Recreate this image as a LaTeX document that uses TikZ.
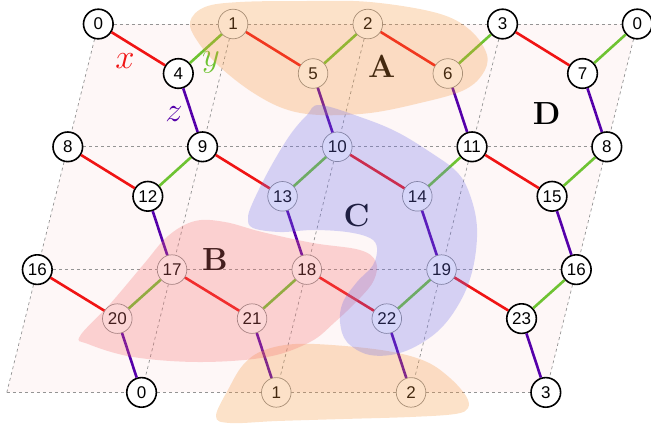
\documentclass[tikz,border=0pt]{standalone}
\usepackage{fontspec}
\newfontfamily\numfont{Liberation Sans}
\usetikzlibrary{backgrounds}
\definecolor{xred}{RGB}{240,20,20}
\definecolor{ygreen}{RGB}{110,195,50}
\definecolor{zpurple}{RGB}{85,0,170}
\definecolor{regA}{RGB}{245,150,60}
\definecolor{regB}{RGB}{245,110,110}
\definecolor{regC}{RGB}{110,110,235}
\definecolor{bgpink}{RGB}{254,247,247}
\tikzset{
  vtx/.style={circle, draw=black, line width=0.8pt, fill=white, inner sep=0pt,
    minimum size=14.8pt, font=\numfont\fontsize{8.5}{9}\selectfont},
  rvtx/.style={vtx, draw=black!45, line width=0.35pt},
  xe/.style={draw=xred, line width=1.3pt},
  ye/.style={draw=ygreen, line width=1.3pt},
  ze/.style={draw=zpurple, line width=1.3pt},
  gridln/.style={draw=black!42, line width=0.35pt, dash pattern=on 1.5pt off 1.5pt},
  regfill/.style={fill opacity=0.28},
  bondlbl/.style={font=\fontsize{17}{20}\selectfont},
  reglbl/.style={font=\fontsize{16}{19}\selectfont\bfseries}
}
\begin{document}
\begin{tikzpicture}[x=0.5pt,y=-0.5pt]
\useasboundingbox (0,0) rectangle (651,424);
% row 0
\node[vtx]  (n0)  at (98.3,24)   {0};
\node[rvtx] (n1)  at (233.05,24) {1};
\node[rvtx] (n2)  at (367.8,24)  {2};
\node[vtx]  (n3)  at (502.55,24) {3};
\node[vtx]  (n0r) at (637.3,24)  {0};
% row 1
\node[vtx]  (n4)  at (178.3,73.5)  {4};
\node[rvtx] (n5)  at (313.05,73.5) {5};
\node[rvtx] (n6)  at (447.8,73.5)  {6};
\node[vtx]  (n7)  at (582.55,73.5) {7};
% row 2
\node[vtx]  (n8)  at (67.8,146.8)   {8};
\node[vtx]  (n9)  at (202.55,146.8) {9};
\node[rvtx] (n10) at (337.3,146.8)  {10};
\node[vtx]  (n11) at (472.05,146.8) {11};
\node[vtx]  (n8r) at (606.8,146.8)  {8};
% row 3
\node[vtx]  (n12) at (147.8,196.3)  {12};
\node[rvtx] (n13) at (282.55,196.3) {13};
\node[rvtx] (n14) at (417.3,196.3)  {14};
\node[vtx]  (n15) at (552.05,196.3) {15};
% row 4
\node[vtx]  (n16) at (37.3,269.6)   {16};
\node[rvtx] (n17) at (172.05,269.6) {17};
\node[rvtx] (n18) at (306.8,269.6)  {18};
\node[rvtx] (n19) at (441.55,269.6) {19};
\node[vtx]  (n16r) at (576.3,269.6) {16};
% row 5
\node[rvtx] (n20) at (117.3,318.6)  {20};
\node[rvtx] (n21) at (252.05,318.6) {21};
\node[rvtx] (n22) at (386.8,318.6)  {22};
\node[vtx]  (n23) at (521.55,318.6) {23};
% row 6
\coordinate (bl) at (6.8,392.4);
\node[vtx]  (b0) at (141.55,392.4) {0};
\node[rvtx] (b1) at (276.3,392.4)  {1};
\node[rvtx] (b2) at (411.05,392.4) {2};
\node[vtx]  (b3) at (545.8,392.4)  {3};

\begin{pgfonlayer}{background}
  \fill[bgpink] (n0.center) -- (n0r.center) -- (b3.center) -- (bl) -- cycle;
  \draw[gridln] (n0) -- (n1) -- (n2) -- (n3) -- (n0r);
  \draw[gridln] (n8) -- (n9) -- (n10) -- (n11) -- (n8r);
  \draw[gridln] (n16) -- (n17) -- (n18) -- (n19) -- (n16r);
  \draw[gridln] (bl) -- (b0) -- (b1) -- (b2) -- (b3);
  \draw[gridln] (n0) -- (n8) -- (n16) -- (bl);
  \draw[gridln] (n1) -- (n9) -- (n17) -- (b0);
  \draw[gridln] (n2) -- (n10) -- (n18) -- (b1);
  \draw[gridln] (n3) -- (n11) -- (n19) -- (b2);
  \draw[gridln] (n0r) -- (n8r) -- (n16r) -- (b3);
\end{pgfonlayer}

% x bonds
\draw[xe] (n0) -- (n4);  \draw[xe] (n1) -- (n5);  \draw[xe] (n2) -- (n6);  \draw[xe] (n3) -- (n7);
\draw[xe] (n8) -- (n12); \draw[xe] (n9) -- (n13); \draw[xe] (n10) -- (n14); \draw[xe] (n11) -- (n15);
\draw[xe] (n16) -- (n20); \draw[xe] (n17) -- (n21); \draw[xe] (n18) -- (n22); \draw[xe] (n19) -- (n23);
% y bonds
\draw[ye] (n4) -- (n1);  \draw[ye] (n5) -- (n2);  \draw[ye] (n6) -- (n3);  \draw[ye] (n7) -- (n0r);
\draw[ye] (n12) -- (n9); \draw[ye] (n13) -- (n10); \draw[ye] (n14) -- (n11); \draw[ye] (n15) -- (n8r);
\draw[ye] (n20) -- (n17); \draw[ye] (n21) -- (n18); \draw[ye] (n22) -- (n19); \draw[ye] (n23) -- (n16r);
% z bonds
\draw[ze] (n4) -- (n9);  \draw[ze] (n5) -- (n10);  \draw[ze] (n6) -- (n11);  \draw[ze] (n7) -- (n8r);
\draw[ze] (n12) -- (n17); \draw[ze] (n13) -- (n18); \draw[ze] (n14) -- (n19); \draw[ze] (n15) -- (n16r);
\draw[ze] (n20) -- (b0); \draw[ze] (n21) -- (b1); \draw[ze] (n22) -- (b2); \draw[ze] (n23) -- (b3);

% bond labels
\node[bondlbl, text=xred]    (lx) at (125,61) {$x$};
\node[bondlbl, text=ygreen]  (ly) at (211,62) {$y$};
\node[bondlbl, text=zpurple] (lz) at (174,114) {$z$};

% region labels
\node[reglbl] (lA) at (381.7,66) {A};
\node[reglbl] (lB) at (215,260) {B};
\node[reglbl] (lC) at (356.7,216) {C};
\node[reglbl] (lD) at (546.7,113.3) {D};

% regions
\fill[regA, regfill] plot[smooth cycle, tension=0.6] coordinates {
  (190,22) (205,7) (240,2) (305,1) (370,2) (437,13) (470,30) (487,55) (482,75)
  (462,91) (420,103) (370,113) (320,115) (285,109) (252,92) (220,67) (198,42)};
\fill[regA, regfill] plot[smooth cycle, tension=0.6] coordinates {
  (216,416) (229,388) (243,365) (262,351) (295,344) (345,346) (393,352) (427,362)
  (450,378) (466,396) (468,408) (455,414) (410,417) (343,419) (277,421) (230,423)};
\fill[regB, regfill] plot[smooth cycle, tension=0.6] coordinates {
  (80,336) (110,304) (143,265) (168,236) (195,221) (225,222) (262,232) (313,243)
  (360,250) (376,262) (374,280) (360,298) (335,322) (310,342) (267,357) (200,362)
  (133,357) (88,344)};
\fill[regC, regfill] plot[smooth cycle, tension=0.6] coordinates {
  (320,105) (363,118) (397,132) (430,152) (457,172) (470,195) (477,228) (473,268)
  (460,302) (437,332) (403,352) (370,355) (347,342) (340,322) (343,302) (357,282)
  (373,265) (377,248) (370,238) (347,232) (313,230) (280,232) (253,228) (248,218)
  (253,202) (270,168) (290,135) (307,115)};
\end{tikzpicture}
\end{document}
